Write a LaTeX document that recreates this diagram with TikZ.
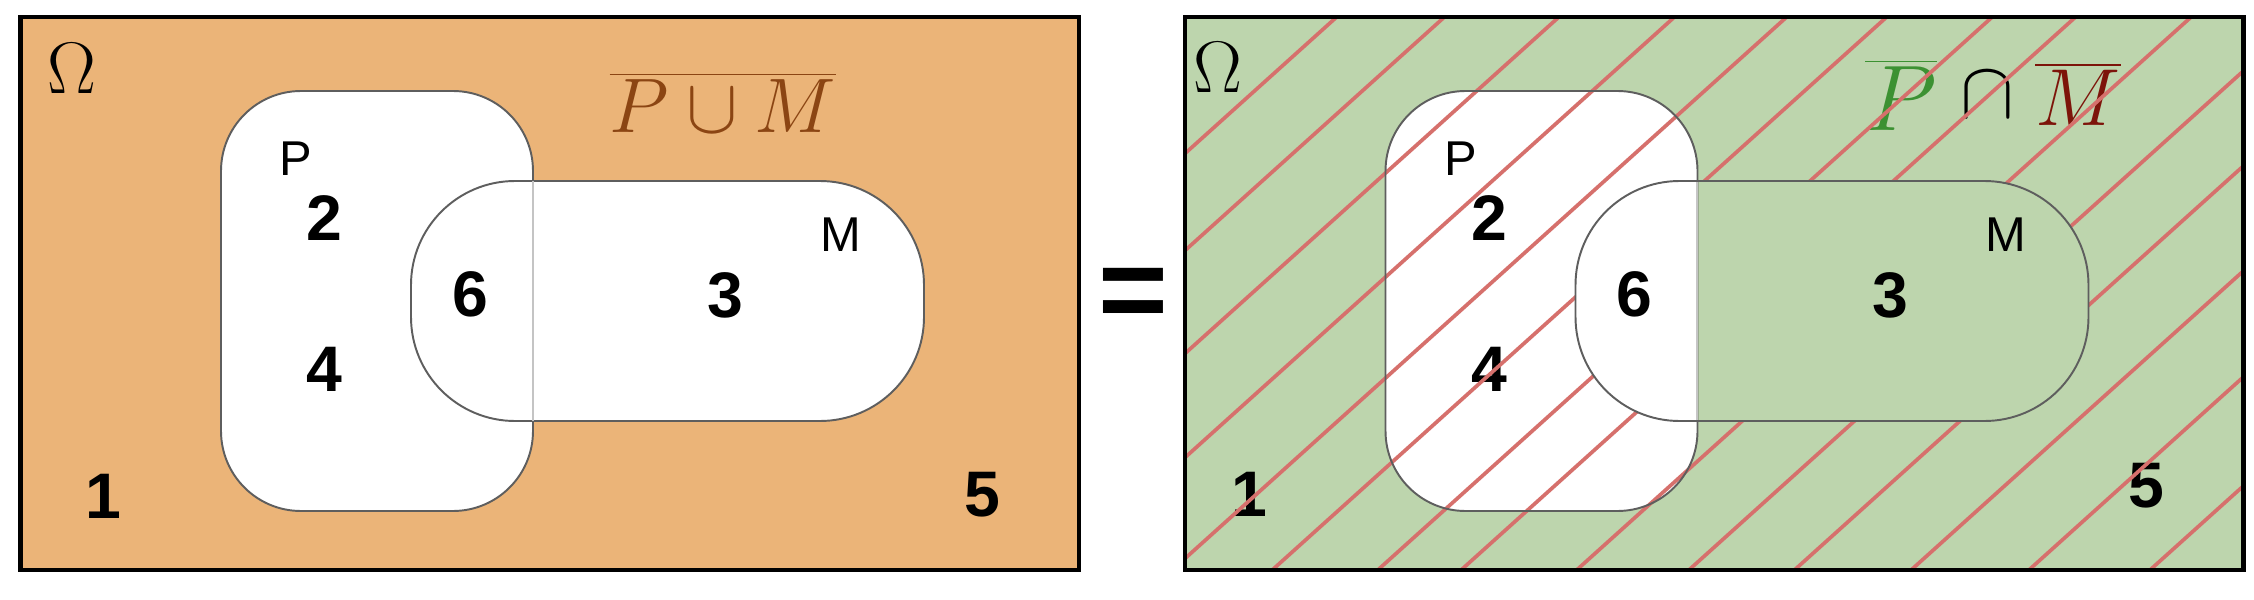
\RequirePackage{fix-cm}
\documentclass[tikz,border=0pt]{standalone}
\usepackage[no-math]{fontspec}
\newfontfamily\arial{Liberation Sans}
\usepackage{xcolor}
\definecolor{cOrange}{HTML}{EBB478}
\definecolor{cGreen}{HTML}{BDD5AD}
\definecolor{cHatch}{HTML}{D6706C}
\definecolor{cBrown}{HTML}{8B4513}
\definecolor{cPGreen}{HTML}{3C9132}
\definecolor{cMRed}{HTML}{7D140A}
\definecolor{cEdge}{HTML}{5E5E5E}
\definecolor{cEdgeLight}{HTML}{C4C4C4}
\usepackage{tikz}
\tikzset{
  frame-box/.style={draw=black,line width=1.3pt},
  set-blob/.style={draw=cEdge,line width=0.55pt},
  set-cut/.style={draw=cEdgeLight,line width=0.55pt},
  hatch-line/.style={draw=cHatch,line width=1.05pt},
  node-num/.style={font=\arial\bfseries\fontsize{18.3}{20}\selectfont,inner sep=0pt},
  node-set/.style={font=\arial\fontsize{13.9}{16}\selectfont,inner sep=0pt},
  node-omega/.style={font=\fontsize{20.8}{24}\selectfont,inner sep=0pt},
  node-formula/.style={anchor=base,inner sep=0pt},
}

\begin{document}
\begin{tikzpicture}[x=0.01cm,y=-0.01cm]
  \useasboundingbox (0,0) rectangle (2254,600);

  % left panel: complement of P union M
  \fill[cOrange] (20.5,17) rectangle (1079,570);
  \filldraw[fill=white,set-blob,rounded corners=0.8cm] (221,91) rectangle (533,511);
  \filldraw[fill=white,set-blob,rounded corners=1.04cm] (411,181) rectangle (924,421);
  \draw[set-cut] (533,181) -- (533,421);
  \draw[frame-box] (20.5,17) rectangle (1079,570);

  \node[node-omega] (om-l) at (72,69) {$\Omega$};
  \node[node-set] (p-l) at (296,159) {P};
  \node[node-set] (m-l) at (841,235) {M};
  \node[node-num] (n1-l) at (103,496) {1};
  \node[node-num] (n2-l) at (324,218) {2};
  \node[node-num] (n3-l) at (725,295) {3};
  \node[node-num] (n4-l) at (324,369) {4};
  \node[node-num] (n5-l) at (982,495) {5};
  \node[node-num] (n6-l) at (470,294) {6};
  \node[node-formula,text=cBrown,font=\fontsize{22}{26}\selectfont] (f-l) at (723,132) {$\overline{P\cup M}$};

  \node[anchor=base,inner sep=0pt,font=\arial\bfseries\fontsize{34}{40}\selectfont] (eq) at (1133,330) {=};

  % right panel: complement of P intersected with complement of M
  \fill[cGreen] (1185,17) rectangle (2243.5,570);
  \fill[white,rounded corners=0.8cm] (1385.5,91) rectangle (1697.5,511);

  \node[node-omega] (om-r) at (1218,68) {$\Omega$};
  \node[node-set] (p-r) at (1461,159) {P};
  \node[node-num] (n1-r) at (1249,494) {1};
  \node[node-num] (n2-r) at (1489,218) {2};
  \node[node-num] (n4-r) at (1489,369) {4};
  \node[node-num] (n5-r) at (2146,486) {5};
  \node[node-formula,text=cPGreen,font=\fontsize{26.5}{30}\selectfont] (fp-r) at (1901,130) {$\overline{P}$};
  \node[node-formula,font=\fontsize{23}{27}\selectfont] (fc-r) at (1987,117) {$\cap$};
  \node[node-formula,text=cMRed,font=\fontsize{23}{27}\selectfont] (fm-r) at (2078,125) {$\overline{M}$};

  \begin{scope}
    \clip (1185,17) rectangle (2243.5,570);
    \foreach \c in {1220,1317,1420,1524,1625,1715,1810,1885,1989,2090,2185,2290,2396,2505}
      \draw[hatch-line] (1150,\c-1035) -- (2280,\c-2052);
  \end{scope}
  % M is not hatched: green outside P, white inside
  \fill[cGreen,rounded corners=1.04cm] (1575.5,181) rectangle (2088.5,421);
  \begin{scope}
    \clip[rounded corners=0.8cm] (1385.5,91) rectangle (1697.5,511);
    \fill[white,rounded corners=1.04cm] (1575.5,181) rectangle (2088.5,421);
  \end{scope}
  \node[node-set] (m-r) at (2006,235) {M};
  \node[node-num] (n3-r) at (1890,295) {3};
  \node[node-num] (n6-r) at (1634,294) {6};

  \draw[set-blob,rounded corners=0.8cm] (1385.5,91) rectangle (1697.5,511);
  \draw[set-cut] (1697.5,181) -- (1697.5,421);
  \draw[set-blob,rounded corners=1.04cm] (1575.5,181) rectangle (2088.5,421);
  \draw[frame-box] (1185,17) rectangle (2243.5,570);
\end{tikzpicture}
\end{document}
